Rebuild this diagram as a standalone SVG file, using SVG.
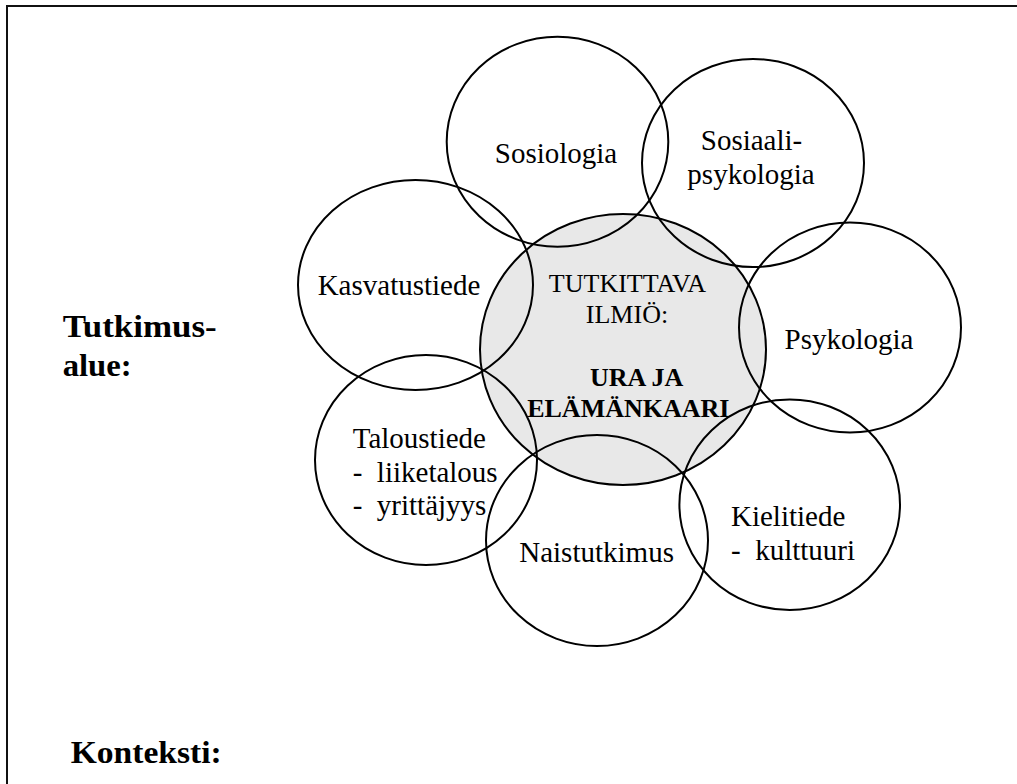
<svg xmlns="http://www.w3.org/2000/svg" width="1017" height="784" viewBox="0 0 1017 784">
  <style>
    .ring { fill: none; stroke: #000; stroke-width: 2; }
    .core { fill: #e8e8e8; stroke: #000; stroke-width: 2; }
    .lbl { font-family: "Liberation Serif", "Times New Roman", serif; font-size: 29px; fill: #000; }
    .mid { text-anchor: middle; }
    .ctr { font-family: "Liberation Serif", "Times New Roman", serif; font-size: 26px; fill: #000; }
    .bold { font-weight: bold; }
    .side { font-family: "Liberation Serif", "Times New Roman", serif; font-size: 32px; font-weight: bold; fill: #000; }
  </style>

  <rect width="1017" height="784" fill="#fff"/>

  <!-- frame: top and left edges -->
  <g id="frame">
    <path d="M7 790 V6 H1020" fill="none" stroke="#111" stroke-width="2"/>
  </g>

  <!-- central phenomenon -->
  <g id="center">
    <ellipse class="core" cx="623" cy="349.5" rx="143" ry="135.5"/>
  </g>

  <!-- surrounding disciplines -->
  <g id="sosiologia">
    <ellipse class="ring" cx="557.5" cy="141.7" rx="110.8" ry="105"/>
    <text class="lbl mid" x="556" y="162.5">Sosiologia</text>
  </g>

  <g id="sosiaalipsykologia">
    <ellipse class="ring" cx="753" cy="163" rx="111" ry="104"/>
    <text class="lbl mid" x="751.5" y="150">Sosiaali-</text>
    <text class="lbl mid" x="751" y="183.5">psykologia</text>
  </g>

  <g id="kasvatustiede">
    <ellipse class="ring" cx="415.5" cy="285" rx="117.5" ry="105"/>
    <text class="lbl mid" x="399" y="295">Kasvatustiede</text>
  </g>

  <g id="psykologia">
    <ellipse class="ring" cx="850" cy="327.5" rx="111" ry="105"/>
    <text class="lbl mid" x="849" y="348.5">Psykologia</text>
  </g>

  <g id="taloustiede">
    <ellipse class="ring" cx="426" cy="460" rx="111" ry="105"/>
    <text class="lbl" x="352.7" y="448.3">Taloustiede</text>
    <text class="lbl" x="352.7" y="481.7" xml:space="preserve">-  liiketalous</text>
    <text class="lbl" x="352.7" y="515" xml:space="preserve">-  yrittäjyys</text>
  </g>

  <g id="naistutkimus">
    <ellipse class="ring" cx="597" cy="540.5" rx="111" ry="105.5"/>
    <text class="lbl mid" x="596.6" y="561.7">Naistutkimus</text>
  </g>

  <g id="kielitiede">
    <ellipse class="ring" cx="789.7" cy="504.7" rx="110.3" ry="105.3"/>
    <text class="lbl" x="731" y="525.7">Kielitiede</text>
    <text class="lbl" x="731" y="560" xml:space="preserve">-  kulttuuri</text>
  </g>

  <!-- central labels drawn above all outlines -->
  <g id="center-text">
    <text class="ctr mid" x="627.5" y="292.3">TUTKITTAVA</text>
    <text class="ctr mid" x="627" y="323.3">ILMIÖ:</text>
    <text class="ctr bold" x="590" y="386">URA JA</text>
    <text class="ctr bold mid" x="628.3" y="416.7">ELÄMÄNKAARI</text>
  </g>

  <!-- side headings -->
  <g id="tutkimusalue">
    <text class="side" x="62.7" y="337.3" textLength="154" lengthAdjust="spacingAndGlyphs">Tutkimus-</text>
    <text class="side" x="62.7" y="376" textLength="69" lengthAdjust="spacingAndGlyphs">alue:</text>
  </g>
  <g id="konteksti">
    <text class="side" x="70.7" y="763.3" textLength="151" lengthAdjust="spacingAndGlyphs">Konteksti:</text>
  </g>

  <g id="connectors"/>
</svg>
